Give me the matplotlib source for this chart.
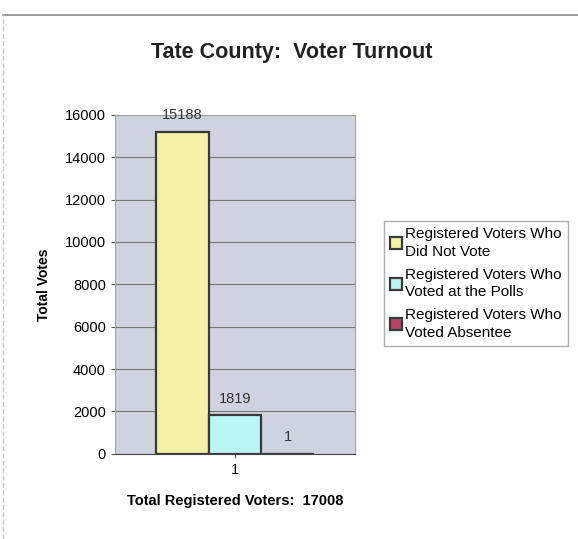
import matplotlib.pyplot as plt
from matplotlib.lines import Line2D

categories = ["1"]
series_names = ["Registered Voters Who\nDid Not Vote",
                "Registered Voters Who\nVoted at the Polls",
                "Registered Voters Who\nVoted Absentee"]
series_values = [15188, 1819, 1]
series_colors = ["#f4f0a6", "#b9f6f4", "#b5445e"]
y_ticks = [0, 2000, 4000, 6000, 8000, 10000, 12000, 14000, 16000]
total_registered = 17008

fig = plt.figure(figsize=(5.78, 5.39), dpi=100)
plt.rcParams['font.family'] = ['Liberation Sans', 'DejaVu Sans']

# scanned page frame: top edge and faint left edge only
top_y = 1 - 15 / 539
fig.lines.append(Line2D([3 / 578, 1.0], [top_y, top_y], transform=fig.transFigure,
                        color="#8a8a8a", linewidth=1.2))
fig.lines.append(Line2D([3 / 578, 3 / 578], [0.0, top_y], transform=fig.transFigure,
                        color="#c8c8c8", linewidth=1.0, linestyle="--"))

ax = fig.add_axes([0.199, 0.158, 0.415, 0.629])
ax.set_facecolor("#ced3df")

bar_w = 0.22
offsets = [-bar_w, 0, bar_w]
for name, val, col, off in zip(series_names, series_values, series_colors, offsets):
    ax.bar(off, val, width=bar_w, color=col, edgecolor="#3a3a3a",
           linewidth=1.6, label=name, zorder=3)
    ax.text(off, val + 450, str(val), ha="center", va="bottom",
            fontsize=10.5, color="#333333", zorder=4)

ax.set_xlim(-0.5, 0.5)
ax.set_ylim(0, 16000)
ax.set_yticks(y_ticks)
ax.set_xticks([0])
ax.set_xticklabels(categories)
ax.tick_params(axis="both", labelsize=10.5, length=3, color="#555555")
ax.grid(axis="y", color="#777777", linewidth=0.8, zorder=0)
for side in ["top", "right", "left"]:
    ax.spines[side].set_color("#a0a0a0")
ax.spines["bottom"].set_color("#444444")

ax.set_ylabel("Total Votes", fontsize=10, fontweight="bold", labelpad=10)
ax.set_xlabel(f"Total Registered Voters:  {total_registered}", fontsize=10.5,
              fontweight="bold", labelpad=12)

fig.text(0.505, 0.903, "Tate County:  Voter Turnout", ha="center", va="center",
         fontsize=15.5, fontweight="bold", color="#222222")

leg = fig.legend(loc="center left", bbox_to_anchor=(0.651, 0.474), fontsize=11,
                 frameon=True, fancybox=False, edgecolor="#999999",
                 handlelength=0.8, handleheight=0.8, handletextpad=0.2,
                 labelspacing=0.6, borderpad=0.4)
for t in leg.get_texts():
    t.set_linespacing(1.3)

plt.savefig("out.png", dpi=100)
